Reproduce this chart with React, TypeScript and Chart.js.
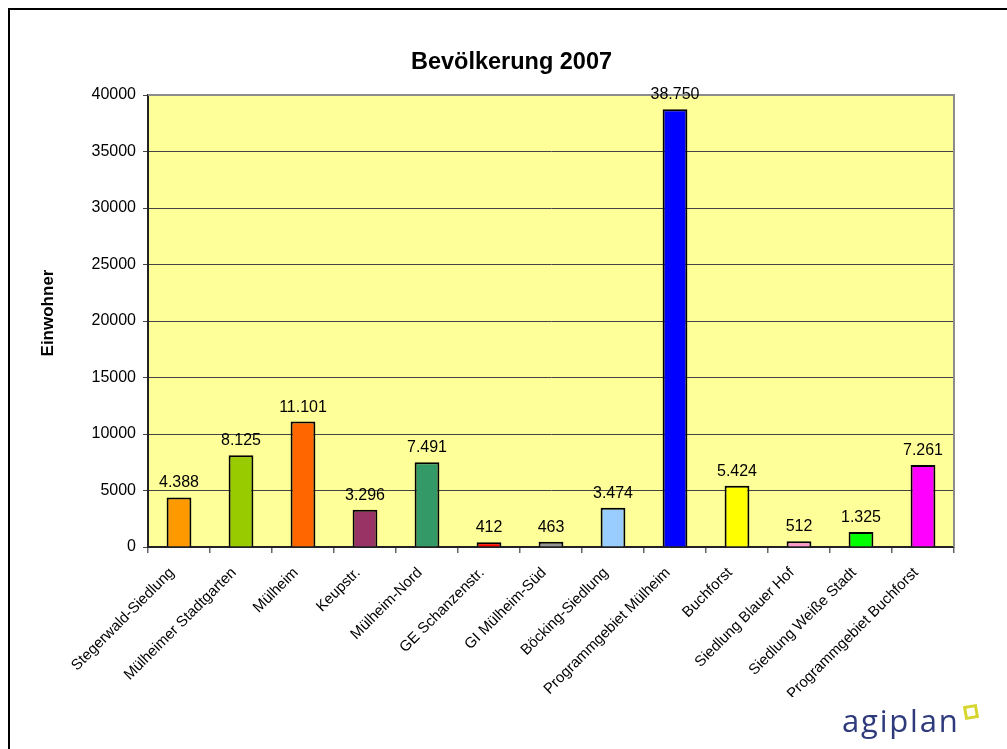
import React, { useEffect, useRef } from "react";
import { Chart, registerables } from "chart.js";

Chart.register(...registerables);

const categories = [
  "Stegerwald-Siedlung",
  "Mülheimer Stadtgarten",
  "Mülheim",
  "Keupstr.",
  "Mülheim-Nord",
  "GE Schanzenstr.",
  "GI Mülheim-Süd",
  "Böcking-Siedlung",
  "Programmgebiet Mülheim",
  "Buchforst",
  "Siedlung Blauer Hof",
  "Siedlung Weiße Stadt",
  "Programmgebiet Buchforst",
];

const values = [4388, 8125, 11101, 3296, 7491, 412, 463, 3474, 38750, 5424, 512, 1325, 7261];

const barColors = [
  "#FF9900",
  "#99CC00",
  "#FF6600",
  "#993366",
  "#339966",
  "#FF0000",
  "#969696",
  "#99CCFF",
  "#0000FF",
  "#FFFF00",
  "#FF99CC",
  "#00FF00",
  "#FF00FF",
];

const yTicks = [0, 5000, 10000, 15000, 20000, 25000, 30000, 35000, 40000];

const chartTitle = "Bevölkerung 2007";
const yAxisTitle = "Einwohner";
const logoText = "agiplan";

const FONT = "'Liberation Sans', Arial, Helvetica, sans-serif";

function formatDE(v: number): string {
  return String(v).replace(/\B(?=(\d{3})+(?!\d))/g, ".");
}

const decorPlugin = {
  id: "decor",
  beforeDraw(chart: any) {
    const { ctx, chartArea } = chart;
    ctx.save();
    ctx.fillStyle = "#FFFF99";
    ctx.fillRect(chartArea.left, chartArea.top, chartArea.right - chartArea.left, chartArea.bottom - chartArea.top);
    ctx.restore();
  },
  beforeDatasetsDraw(chart: any) {
    const { ctx, chartArea } = chart;
    ctx.save();
    ctx.strokeStyle = "#8C8C8C";
    ctx.lineWidth = 2;
    ctx.beginPath();
    ctx.moveTo(chartArea.left, chartArea.top);
    ctx.lineTo(chartArea.right, chartArea.top);
    ctx.lineTo(chartArea.right, chartArea.bottom);
    ctx.stroke();
    ctx.restore();
  },
  afterDatasetsDraw(chart: any) {
    const { ctx } = chart;
    const meta = chart.getDatasetMeta(0);
    ctx.save();
    ctx.fillStyle = "#000";
    ctx.font = `16px ${FONT}`;
    ctx.textAlign = "center";
    ctx.textBaseline = "alphabetic";
    meta.data.forEach((bar: any, i: number) => {
      ctx.fillText(formatDE(values[i]), bar.x, bar.y - 10);
    });
    // chart title
    ctx.font = `bold 23.5px ${FONT}`;
    ctx.textBaseline = "middle";
    ctx.fillText(chartTitle, 511.5, 63);
    // y axis title
    ctx.translate(48, 313);
    ctx.rotate(-Math.PI / 2);
    ctx.font = `bold 17px ${FONT}`;
    ctx.fillText(yAxisTitle, 0, 0);
    ctx.restore();
  },
};

export default function App() {
  const canvasRef = useRef<HTMLCanvasElement | null>(null);

  useEffect(() => {
    if (!canvasRef.current) return;
    Chart.defaults.font.family = FONT;
    const chart = new Chart(canvasRef.current, {
      type: "bar",
      data: {
        labels: categories,
        datasets: [
          {
            data: values,
            backgroundColor: barColors,
            borderColor: "#000000",
            borderWidth: 2,
            barPercentage: 0.4,
            categoryPercentage: 1.0,
          },
        ],
      },
      options: {
        animation: false,
        responsive: false,
        devicePixelRatio: 1,
        layout: { padding: { top: 95, left: 0, right: 53, bottom: 52 } },
        plugins: {
          legend: { display: false },
          title: { display: false },
          tooltip: { enabled: false },
        },
        scales: {
          x: {
            offset: true,
            grid: {
              offset: true,
              drawOnChartArea: false,
              drawTicks: true,
              tickLength: 6,
              tickColor: "#666666",
              lineWidth: 1.5,
            },
            border: { display: true, color: "#222222", width: 2 },
            ticks: {
              autoSkip: false,
              minRotation: 45,
              maxRotation: 45,
              color: "#000",
              font: { size: 15, family: FONT },
              padding: 11,
              labelOffset: -7,
            },
            afterFit: (s: any) => {
              s.height = 150;
            },
          },
          y: {
            min: 0,
            max: 40000,
            afterBuildTicks: (s: any) => {
              s.ticks = yTicks.map((v) => ({ value: v }));
            },
            grid: {
              color: "#444444",
              lineWidth: 1,
              drawTicks: true,
              tickLength: 5,
              tickColor: "#444444",
            },
            border: { display: true, color: "#222222", width: 2 },
            ticks: {
              color: "#000",
              font: { size: 16, family: FONT },
              padding: 7,
              callback: (v: any) => String(v),
            },
            afterFit: (s: any) => {
              s.width = 148;
            },
          },
        },
      },
      plugins: [decorPlugin],
    } as any);
    return () => chart.destroy();
  }, []);

  return (
    <div
      style={{
        position: "absolute",
        left: 0,
        top: 0,
        width: 1007,
        height: 749,
        overflow: "hidden",
        background: "#fff",
      }}
    >
      <div
        style={{
          position: "absolute",
          left: 8,
          top: 8,
          width: 1200,
          height: 1000,
          borderLeft: "2px solid #000",
          borderTop: "2px solid #000",
          boxSizing: "border-box",
        }}
      />
      <canvas
        ref={canvasRef}
        width={1007}
        height={749}
        style={{ position: "absolute", left: 0, top: 0, width: 1007, height: 749 }}
      />
      <div
        style={{
          position: "absolute",
          left: 842,
          top: 705,
          fontFamily: "'Open Sans', sans-serif",
          fontSize: 31,
          lineHeight: "31px",
          letterSpacing: "1.8px",
          color: "#2E3A7C",
          whiteSpace: "nowrap",
        }}
      >
        {logoText}
      </div>
      <div
        style={{
          position: "absolute",
          left: 964,
          top: 705,
          width: 8,
          height: 8,
          border: "3px solid #D6D62E",
          transform: "rotate(-10deg)",
        }}
      />
    </div>
  );
}
